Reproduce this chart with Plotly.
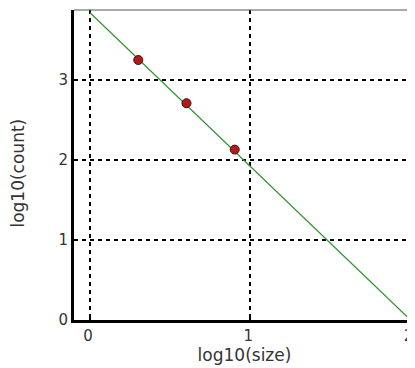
import plotly.graph_objects as go

# data
pts_x = [0.301, 0.602, 0.903]
pts_y = [3.25, 2.71, 2.13]
fit_x = [0.0, 2.0]
fit_y = [3.84, 0.0]
x_ticks = [0, 1, 2]
y_ticks = [0, 1, 2, 3]

fig = go.Figure()
fig.add_trace(go.Scatter(x=fit_x, y=fit_y, mode="lines",
                         line=dict(color="#2f942f", width=1.2), hoverinfo="skip"))
fig.add_trace(go.Scatter(x=pts_x, y=pts_y, mode="markers",
                         marker=dict(color="#b01c1c", size=9,
                                     line=dict(color="#4a0c0c", width=1))))

font = dict(family="DejaVu Sans, sans-serif", size=15, color="#333")
# page body has an 8px margin: figure is 407x360 so the plot lands where the reference has it
fig.update_layout(
    width=407, height=360,
    margin=dict(l=66, r=0, t=2, b=48),
    paper_bgcolor="white", plot_bgcolor="white",
    showlegend=False, font=font,
    xaxis=dict(range=[-0.1, 2.028], tickvals=x_ticks, showgrid=True,
               gridcolor="black", griddash="4px,4px", gridwidth=1.5,
               zeroline=False, showline=True, linecolor="black", linewidth=3,
               ticks="inside", ticklen=3, tickwidth=2, tickcolor="black",
               automargin=False, ticklabeloverflow="allow", ticklabelshift=-2,
               title=dict(text="log10(size)", standoff=6, font=dict(size=17))),
    yaxis=dict(range=[0, 3.875], tickvals=y_ticks, showgrid=True,
               gridcolor="black", griddash="4px,4px", gridwidth=1.5,
               zeroline=False, showline=True, linecolor="black", linewidth=3,
               ticks="inside", ticklen=3, tickwidth=2, tickcolor="black",
               automargin=False),
    annotations=[dict(text="log10(count)", textangle=-90, xref="paper", yref="paper",
                      x=-0.164, y=0.4726, xanchor="center", yanchor="middle",
                      showarrow=False, font=dict(size=17, color="#333"))],
)
fig.add_shape(type="line", xref="paper", yref="paper", x0=0, x1=1, y0=1, y1=1,
              line=dict(color="#555", width=1))
fig.write_html("out.html")
